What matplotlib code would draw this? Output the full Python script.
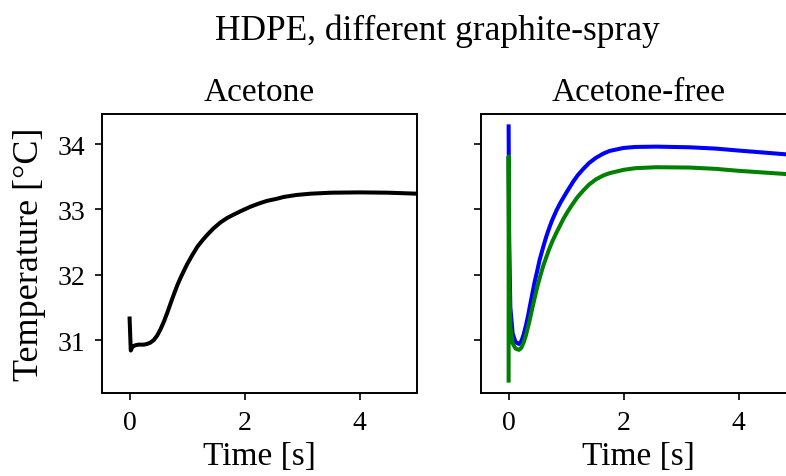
import matplotlib
matplotlib.use("Agg")
import matplotlib.pyplot as plt

# Acetone (left panel)
t_acetone = [0.0, 0.02, 0.05, 0.1, 0.15, 0.2, 0.25, 0.3, 0.36, 0.42, 0.48, 0.54, 0.6,
             0.66, 0.72, 0.77, 0.83, 0.89, 0.95, 1.0, 1.09, 1.18, 1.27, 1.35, 1.46,
             1.58, 1.7, 1.81, 1.95, 2.1, 2.25, 2.39, 2.55, 2.68, 2.9, 3.15, 3.5,
             4.0, 4.5, 5.0]
T_acetone = [31.33, 30.84, 30.90, 30.92, 30.93, 30.93, 30.93, 30.94, 30.96, 31.00,
             31.07, 31.17, 31.29, 31.43, 31.58, 31.70, 31.84, 31.96, 32.07, 32.16,
             32.30, 32.43, 32.53, 32.61, 32.71, 32.80, 32.87, 32.92, 32.98, 33.04,
             33.09, 33.13, 33.16, 33.19, 33.22, 33.24, 33.255, 33.26, 33.255, 33.24]

# Acetone-free (right panel), two measurements
t_blue = [0.0, 0.01, 0.03, 0.07, 0.12, 0.18, 0.22, 0.26, 0.3, 0.34, 0.37, 0.41, 0.45,
          0.5, 0.54, 0.6, 0.65, 0.7, 0.75, 0.83, 0.9, 1.0, 1.12, 1.2, 1.3, 1.4,
          1.52, 1.65, 1.76, 2.0, 2.2, 2.57, 3.15, 3.6, 4.0, 4.5, 5.0]
T_blue = [34.27, 32.5, 31.5, 31.1, 30.97, 30.94, 30.98, 31.08, 31.22, 31.38, 31.52,
          31.70, 31.88, 32.07, 32.23, 32.42, 32.57, 32.70, 32.82, 32.98, 33.10,
          33.25, 33.42, 33.52, 33.62, 33.71, 33.79, 33.855, 33.895, 33.94, 33.955,
          33.96, 33.95, 33.93, 33.90, 33.865, 33.83]

t_green = [0.0, 0.0, 0.01, 0.03, 0.07, 0.12, 0.18, 0.22, 0.26, 0.3, 0.36, 0.42, 0.5,
           0.55, 0.6, 0.7, 0.76, 0.83, 0.95, 1.03, 1.12, 1.2, 1.3, 1.4, 1.52, 1.65,
           1.76, 2.0, 2.2, 2.57, 3.15, 3.6, 4.0, 4.5, 5.0]
T_green = [30.38, 33.81, 32.0, 31.2, 30.95, 30.87, 30.85, 30.88, 30.96, 31.07, 31.28,
           31.52, 31.82, 31.98, 32.13, 32.38, 32.51, 32.64, 32.85, 32.97, 33.09,
           33.19, 33.29, 33.38, 33.46, 33.52, 33.555, 33.605, 33.63, 33.645, 33.64,
           33.62, 33.59, 33.56, 33.53]

plt.rcParams['font.family'] = ['Liberation Serif', 'DejaVu Serif']
plt.rcParams['axes.linewidth'] = 1.4
plt.rcParams['xtick.major.width'] = 1.2
plt.rcParams['ytick.major.width'] = 1.2
plt.rcParams['xtick.major.size'] = 5
plt.rcParams['ytick.major.size'] = 5

fig = plt.figure(figsize=(7.86, 4.77), dpi=100)
ax1 = fig.add_axes([0.1298, 0.174, 0.4008, 0.585])
ax2 = fig.add_axes([0.612, 0.174, 0.4008, 0.585], sharey=ax1)

ax1.plot(t_acetone, T_acetone, color='k', lw=2.9)
ax2.plot(t_blue, T_blue, color='b', lw=2.9)
ax2.plot(t_green, T_green, color='g', lw=2.9)

for ax in (ax1, ax2):
    ax.set_xlim(-0.48, 5.0)
    ax.set_xticks([0, 2, 4])
    ax.set_xlabel("Time [s]", fontsize=24)
    ax.tick_params(labelsize=20, pad=7)
ax1.set_ylim(30.19, 34.46)
ax1.set_yticks([31, 32, 33, 34])
plt.setp(ax2.get_yticklabels(), visible=False)

ax1.set_ylabel("Temperature [°C]", fontsize=26, labelpad=8)
ax1.set_title("Acetone", fontsize=24, pad=10)
ax2.set_title("Acetone-free", fontsize=24, pad=10)
fig.suptitle("HDPE, different graphite-spray", fontsize=25.5, x=0.556, y=0.97)

fig.savefig("out.png", dpi=100)
